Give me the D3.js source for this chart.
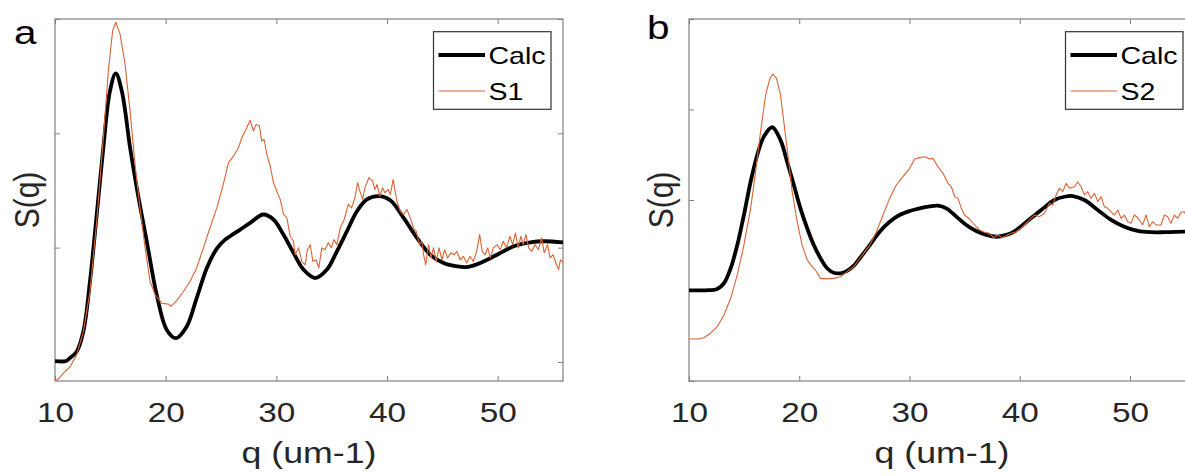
<!DOCTYPE html>
<html>
<head>
<meta charset="utf-8">
<script src="https://cdn.jsdelivr.net/npm/d3@7"></script>
<style>
  body { margin: 0; background: #fff; }
  svg { display: block; font-family: "Liberation Sans", Arial, sans-serif; }
</style>
</head>
<body>
<div id="chart"></div>
<script>
// values, [q, S(q)]
const calcA = [
  [10, 0.504], [11.0, 0.504], [11.36, 0.518], [11.96, 0.545], [12.56, 0.633],
  [13.16, 0.852], [13.77, 1.145], [14.37, 1.439], [14.97, 1.686], [15.49, 1.762],
  [16.03, 1.686], [16.78, 1.439], [17.38, 1.263], [18.29, 1.028], [19.19, 0.794],
  [20.1, 0.640], [20.94, 0.604], [21.9, 0.655], [22.8, 0.779], [23.72, 0.911],
  [24.62, 0.996], [25.37, 1.035], [25.82, 1.050], [26.73, 1.079], [27.63, 1.108],
  [28.83, 1.145], [29.74, 1.123], [30.64, 1.057], [31.55, 0.977], [32.45, 0.904],
  [33.51, 0.867], [34.57, 0.904], [35.47, 0.984], [36.37, 1.071], [37.28, 1.159],
  [38.18, 1.211], [39.23, 1.225], [40.29, 1.207], [41.5, 1.130], [42.7, 1.043],
  [43.91, 0.969], [45.11, 0.933], [46.32, 0.918], [47.22, 0.915], [48.43, 0.933],
  [49.94, 0.969], [51.44, 1.006], [52.95, 1.023], [54.15, 1.028], [55.9, 1.023]
];

const s1 = [
  [10.0, 0.417], [10.3, 0.425], [10.75, 0.450], [11.36, 0.479], [11.96, 0.531], [12.56, 0.633],
  [13.16, 0.808], [13.77, 1.115], [14.37, 1.481], [14.82, 1.773], [15.21, 1.949], [15.49, 1.986],
  [15.88, 1.934], [16.33, 1.803], [16.78, 1.598], [17.23, 1.364], [17.68, 1.174], [18.14, 0.999],
  [18.59, 0.852], [19.04, 0.794], [19.65, 0.757], [20.25, 0.753], [20.46, 0.743], [21.0, 0.768],
  [21.6, 0.808], [22.2, 0.852], [22.8, 0.911], [23.41, 0.999], [24.0, 1.086], [24.62, 1.174],
  [25.2, 1.276], [25.67, 1.371], [26.12, 1.400], [26.58, 1.437], [26.88, 1.481], [27.33, 1.525],
  [27.63, 1.557], [27.93, 1.510], [28.17, 1.539], [28.47, 1.532], [28.68, 1.466], [28.89, 1.474],
  [29.14, 1.408], [29.44, 1.357], [29.74, 1.284], [30.04, 1.247], [30.35, 1.211], [30.65, 1.145],
  [30.95, 1.130], [31.25, 1.050], [31.55, 1.028], [31.7, 0.969], [32.0, 0.999], [32.3, 0.940],
  [32.6, 0.925], [32.8, 0.991], [33.06, 1.013], [33.3, 0.940], [33.6, 0.947], [33.84, 0.911],
  [34.1, 0.999], [34.4, 0.991], [34.7, 1.021], [34.97, 0.999], [35.2, 1.035], [35.47, 1.013],
  [35.77, 1.086], [36.13, 1.123], [36.5, 1.189], [36.8, 1.174], [37.1, 1.218], [37.34, 1.284],
  [37.55, 1.247], [37.8, 1.211], [38.0, 1.262], [38.36, 1.306], [38.7, 1.291], [38.9, 1.254],
  [39.1, 1.276], [39.35, 1.225], [39.6, 1.262], [39.8, 1.240], [40.1, 1.254], [40.3, 1.232],
  [40.55, 1.298], [40.89, 1.203], [41.2, 1.159], [41.5, 1.145], [41.8, 1.167], [42.1, 1.130],
  [42.4, 1.086], [42.64, 1.071], [42.94, 1.013], [43.15, 1.028], [43.3, 0.969], [43.5, 0.925],
  [43.75, 1.013], [43.97, 0.955], [44.2, 0.999], [44.45, 0.940], [44.7, 0.999], [44.96, 0.947],
  [45.2, 0.991], [45.47, 0.955], [45.77, 0.977], [46.07, 0.969], [46.3, 0.984], [46.6, 0.947],
  [46.9, 0.962], [47.2, 0.933], [47.5, 0.962], [47.8, 0.940], [48.1, 0.984], [48.37, 1.057],
  [48.6, 0.984], [48.85, 0.969], [49.1, 0.999], [49.33, 0.955], [49.6, 0.999], [49.94, 1.013],
  [50.24, 0.991], [50.5, 1.028], [50.8, 0.999], [51.1, 1.050], [51.35, 1.013], [51.6, 1.064],
  [51.85, 0.999], [52.1, 1.050], [52.3, 1.013], [52.55, 1.057], [52.8, 0.999], [53.07, 0.984],
  [53.37, 1.013], [53.67, 0.991], [53.97, 1.043], [54.2, 0.977], [54.5, 1.013], [54.74, 0.955],
  [55.0, 0.969], [55.26, 0.933], [55.5, 0.904], [55.67, 0.947], [55.9, 0.933]
];

const calcB = [
  [10, 0.501], [11.5, 0.501], [12.56, 0.508], [13.17, 0.540], [13.78, 0.623], [14.38, 0.751],
  [14.98, 0.917], [15.59, 1.101], [16.19, 1.249], [16.79, 1.350], [17.55, 1.402], [18.3, 1.331],
  [18.9, 1.212], [19.51, 1.083], [20.11, 0.954], [20.72, 0.844], [21.32, 0.751], [21.93, 0.678],
  [22.53, 0.623], [23.13, 0.598], [23.74, 0.595], [24.34, 0.608], [25.0, 0.640], [25.49, 0.678],
  [26.4, 0.751], [27.3, 0.825], [28.2, 0.880], [29.1, 0.917], [30.02, 0.939], [30.92, 0.954],
  [31.83, 0.965], [32.58, 0.969], [33.34, 0.954], [34.25, 0.908], [35.15, 0.862], [36.06, 0.829],
  [36.97, 0.807], [37.87, 0.797], [38.78, 0.807], [39.6, 0.830], [40.73, 0.885],
  [41.95, 0.945], [43.15, 1.000], [44.06, 1.018], [44.81, 1.022], [45.87, 1.000], [47.08, 0.945],
  [48.29, 0.890], [49.49, 0.852], [50.7, 0.829], [51.91, 0.822], [53.12, 0.822], [54.93, 0.825],
  [55.86, 0.826]
];

const s2 = [
  [10, 0.232], [10.8, 0.232], [11.36, 0.239], [11.96, 0.264], [12.56, 0.300], [13.17, 0.365],
  [13.78, 0.457], [14.38, 0.586], [14.98, 0.751], [15.59, 0.954], [16.04, 1.156], [16.49, 1.377],
  [16.95, 1.580], [17.34, 1.672], [17.61, 1.696], [17.94, 1.672], [18.3, 1.580], [18.6, 1.433],
  [18.97, 1.249], [19.36, 1.046], [19.81, 0.880], [20.26, 0.751], [20.72, 0.669], [21.17, 0.631],
  [21.47, 0.613], [21.93, 0.567], [22.53, 0.564], [23.13, 0.567], [23.74, 0.576], [24.34, 0.604],
  [24.95, 0.631], [25.5, 0.678], [26.4, 0.751], [27.0, 0.825], [27.6, 0.917], [28.2, 1.009],
  [28.81, 1.083], [29.41, 1.129], [30.02, 1.175], [30.47, 1.227], [30.92, 1.234], [31.38, 1.239],
  [31.83, 1.227], [32.13, 1.230], [32.58, 1.184], [33.04, 1.148], [33.49, 1.092], [33.8, 1.073],
  [34.1, 1.018], [34.4, 1.009], [34.7, 0.954], [35.0, 0.917], [35.45, 0.895], [35.9, 0.862],
  [36.36, 0.834], [36.81, 0.822], [37.26, 0.816], [37.63, 0.792], [38.02, 0.807], [38.41, 0.792],
  [38.78, 0.803], [39.23, 0.816], [39.68, 0.825], [40.13, 0.844], [40.73, 0.880], [41.34, 0.917],
  [41.79, 0.908], [42.25, 0.927], [42.7, 0.982], [43.0, 0.972], [43.3, 1.028], [43.6, 1.065],
  [43.9, 1.046], [44.21, 1.092], [44.51, 1.065], [44.96, 1.073], [45.26, 1.101], [45.57, 1.073],
  [45.87, 1.028], [46.17, 1.046], [46.47, 1.009], [46.78, 1.037], [47.08, 0.991], [47.38, 1.018],
  [47.68, 0.963], [47.98, 0.954], [48.29, 0.935], [48.59, 0.917], [48.89, 0.945], [49.19, 0.899],
  [49.49, 0.917], [49.79, 0.880], [50.1, 0.871], [50.4, 0.917], [50.76, 0.899], [51.15, 0.862],
  [51.46, 0.917], [51.76, 0.852], [52.06, 0.880], [52.36, 0.862], [52.82, 0.862], [53.12, 0.917],
  [53.42, 0.908], [53.72, 0.871], [54.03, 0.917], [54.33, 0.899], [54.63, 0.932], [54.93, 0.935],
  [55.2, 0.901], [55.5, 0.934], [55.86, 0.917]
];

const xTicks = [10, 20, 30, 40, 50];
const yTicksA = [0.5, 1, 1.5, 2];
const yTicksB = [0, 0.5, 1, 1.5, 2];
const qRange = [10, 55.9];

const W = 1185, H = 476;
const SX = 1.19; // the source figure is stretched sideways, text too
const plotTop = 19, plotBottom = 381;
const axisGray = "#808080";
const measColor = "#DA6436";

const svg = d3.select("#chart").append("svg")
  .attr("width", W)
  .attr("height", H);

const panels = [
  { tag: "a", left: 55, right: 563, calc: calcA, meas: s1, name: "S1",
    yDomain: [0.4167, 2], yTicks: yTicksA, tagX: 14, tagY: 44 },
  { tag: "b", left: 689, right: 1195, calc: calcB, meas: s2, name: "S2",
    yDomain: [0, 2], yTicks: yTicksB, tagX: 647, tagY: 39 }
];

function stretchedText(g, x, y, str, size) {
  return g.append("text")
    .attr("transform", `translate(${x},${y}) scale(${SX},1)`)
    .style("font-size", size + "px")
    .text(str);
}

panels.forEach((p, i) => {
  const x = d3.scaleLinear().domain(qRange).range([p.left, p.right]);
  const y = d3.scaleLinear().domain(p.yDomain).range([plotBottom, plotTop]);
  const g = svg.append("g");

  g.append("clipPath").attr("id", "clip" + i)
    .append("rect")
    .attr("x", p.left).attr("y", plotTop)
    .attr("width", p.right - p.left).attr("height", plotBottom - plotTop);

  // axes, MATLAB style: inward ticks on all four sides
  const bottomAxis = g.append("g")
    .attr("transform", `translate(0,${plotBottom})`)
    .call(d3.axisBottom(x).tickValues(xTicks).tickSizeInner(-5).tickSizeOuter(0).tickPadding(21));
  bottomAxis.selectAll("text")
    .attr("transform", `scale(${SX},1)`)
    .style("font-size", "28px")
    .style("font-family", '"Liberation Sans", Arial, sans-serif')
    .attr("fill", "#262626");

  g.append("g")
    .attr("transform", `translate(0,${plotTop})`)
    .call(d3.axisTop(x).tickValues(xTicks).tickSizeInner(-5).tickSizeOuter(0).tickFormat(""));
  g.append("g")
    .attr("transform", `translate(${p.left},0)`)
    .call(d3.axisLeft(y).tickValues(p.yTicks).tickSizeInner(-5).tickSizeOuter(0).tickFormat(""));
  g.append("g")
    .attr("transform", `translate(${p.right},0)`)
    .call(d3.axisRight(y).tickValues(p.yTicks).tickSizeInner(-5).tickSizeOuter(0).tickFormat(""));

  g.selectAll(".domain").remove();
  g.selectAll(".tick line").attr("stroke", axisGray);

  g.append("rect")
    .attr("x", p.left).attr("y", plotTop)
    .attr("width", p.right - p.left).attr("height", plotBottom - plotTop)
    .attr("fill", "none")
    .attr("stroke", axisGray)
    .attr("stroke-width", 1.2);

  // curves
  const calcLine = d3.line().x(d => x(d[0])).y(d => y(d[1])).curve(d3.curveCatmullRom);
  const measLine = d3.line().x(d => x(d[0])).y(d => y(d[1]));

  const plot = g.append("g").attr("clip-path", `url(#clip${i})`);
  plot.append("path")
    .datum(p.calc)
    .attr("d", calcLine)
    .attr("fill", "none")
    .attr("stroke", "#000")
    .attr("stroke-width", 3.8)
    .attr("stroke-linejoin", "round");
  plot.append("path")
    .datum(p.meas)
    .attr("d", measLine)
    .attr("fill", "none")
    .attr("stroke", measColor)
    .attr("stroke-width", 1.1)
    .attr("stroke-linejoin", "round");

  // legend
  const lx = p.right - 129.5, ly = 31.7;
  const legend = g.append("g");
  legend.append("rect")
    .attr("x", lx).attr("y", ly)
    .attr("width", 117.5).attr("height", 77.6)
    .attr("fill", "#fff")
    .attr("stroke", "#333")
    .attr("stroke-width", 1.2);
  const entries = [
    { label: "Calc", color: "#000", width: 3.8, cy: 55 },
    { label: p.name, color: measColor, width: 1.1, cy: 91 }
  ];
  entries.forEach(e => {
    legend.append("line")
      .attr("x1", lx + 5).attr("x2", lx + 51.5)
      .attr("y1", e.cy).attr("y2", e.cy)
      .attr("stroke", e.color)
      .attr("stroke-width", e.width);
    stretchedText(legend, lx + 55, e.cy + 8.6, e.label, 24).attr("fill", "#000");
  });

  // axis labels and panel tag
  stretchedText(g, (p.left + p.right) / 2, 463, "q (um-1)", 30)
    .attr("text-anchor", "middle")
    .attr("fill", "#262626");
  g.append("text")
    .attr("transform", `translate(${p.left - 16},${(plotTop + plotBottom) / 2}) scale(${SX},1) rotate(-90)`)
    .attr("text-anchor", "middle")
    .style("font-size", "30px")
    .attr("fill", "#262626")
    .text("S(q)");
  stretchedText(g, p.tagX, p.tagY, p.tag, 34).attr("fill", "#000");
});
</script>
</body>
</html>
